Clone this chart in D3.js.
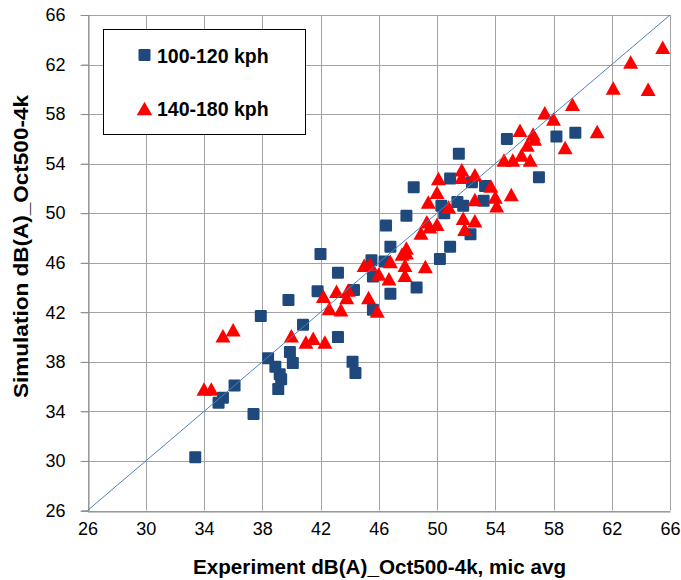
<!DOCTYPE html>
<html>
<head>
<meta charset="utf-8">
<script src="https://cdn.jsdelivr.net/npm/d3@7"></script>
<style>
  html, body { margin: 0; padding: 0; background: #fff; }
  svg { display: block; font-family: "Liberation Sans", Arial, sans-serif; }
</style>
</head>
<body>
<svg id="chart" width="681" height="580"></svg>
<script>
// Axis ticks (dB(A))
const tickValues = [26, 30, 34, 38, 42, 46, 50, 54, 58, 62, 66];

// 100-120 kph: experiment (x) vs simulation (y)
const lowSpeedX = [33.4, 35.0, 35.3, 36.1, 37.4, 37.9, 38.4, 38.9, 39.2, 39.3, 39.1, 39.9,
  40.1, 39.8, 40.8, 41.8, 42.0, 43.2, 43.2, 44.3, 44.2, 44.4, 45.5, 45.6, 45.6, 46.4,
  46.8, 46.5, 46.8, 47.9, 48.4, 48.6, 50.2, 50.9, 50.3, 50.5, 50.9, 51.4, 51.8, 51.5,
  52.4, 53.2, 53.3, 52.3, 54.8, 57.0, 58.2, 59.5];
const lowSpeedY = [30.3, 34.7, 35.1, 36.1, 33.8, 41.7, 38.3, 37.6, 37.0, 36.6, 35.8, 38.8,
  37.9, 43.0, 41.0, 43.7, 46.7, 45.2, 40.0, 43.8, 38.0, 37.1, 46.2, 44.9, 42.2, 46.1,
  47.3, 49.0, 43.5, 49.8, 52.1, 44.0, 46.3, 47.3, 50.6, 50.0, 52.8, 50.9, 50.6, 54.8,
  52.5, 51.0, 52.2, 48.3, 56.0, 52.9, 56.2, 56.5];

// 140-180 kph: experiment (x) vs simulation (y)
const highSpeedX = [34.0, 34.5, 35.3, 36.0, 40.0, 41.0, 41.5, 42.3, 42.2, 43.1, 43.9, 42.6,
  43.4, 43.8, 45.3, 45.0, 45.4, 45.9, 46.0, 46.7, 46.8, 47.6, 47.8, 47.8, 47.9, 47.9,
  49.2, 48.9, 49.5, 49.3, 50.0, 49.4, 50.0, 50.1, 50.8, 51.7, 51.7, 52.6, 51.8, 52.6,
  51.9, 52.6, 53.7, 54.0, 54.1, 54.6, 55.2, 55.8, 56.4, 55.1, 55.7, 56.6, 56.7, 56.2,
  58.8, 57.4, 58.0, 59.3, 61.0, 62.1, 63.3, 64.5, 65.5];
const highSpeedY = [35.8, 35.8, 40.1, 40.6, 40.1, 39.6, 39.9, 39.6, 43.3, 43.7, 43.8, 42.3,
  42.2, 43.2, 43.2, 45.8, 45.9, 42.1, 45.1, 44.7, 46.1, 46.7, 45.8, 45.0, 47.2, 46.8,
  45.7, 48.4, 48.9, 49.3, 49.1, 50.9, 51.7, 52.8, 50.5, 53.5, 52.9, 53.1, 49.6, 49.4,
  48.7, 51.1, 52.2, 51.3, 50.6, 54.3, 54.3, 54.7, 54.3, 51.5, 56.7, 56.4, 56.0, 55.5,
  55.3, 58.1, 57.6, 58.8, 56.6, 60.1, 62.2, 60.0, 63.4];

// Line of equality
const identity = [26, 66];

const seriesNames = ["100-120 kph", "140-180 kph"];
const xTitle = "Experiment dB(A)_Oct500-4k, mic avg";
const yTitle = "Simulation dB(A)_Oct500-4k";

const blue = "#1F497D";
const red = "#FF0000";
const gridColor = "#A3A3A3";

const svg = d3.select("#chart");
const plot = { left: 87.5, right: 670, top: 15, bottom: 510.5 };

const x = d3.scaleLinear().domain([26, 66]).range([plot.left, plot.right]);
const y = d3.scaleLinear().domain([26, 66]).range([plot.bottom, plot.top]);

// Gridlines
const grid = svg.append("g");
grid.selectAll("line.v").data(tickValues).join("line")
  .attr("x1", d => Math.round(x(d)) + 0.5).attr("x2", d => Math.round(x(d)) + 0.5)
  .attr("y1", plot.top).attr("y2", plot.bottom)
  .attr("stroke", gridColor).attr("stroke-width", 1);
grid.selectAll("line.h").data(tickValues).join("line")
  .attr("x1", plot.left - 7).attr("x2", plot.right)
  .attr("y1", d => Math.round(y(d)) + 0.5).attr("y2", d => Math.round(y(d)) + 0.5)
  .attr("stroke", gridColor).attr("stroke-width", 1);

// Y axis
const yAxis = svg.append("g")
  .attr("transform", `translate(${Math.round(plot.left) + 0.5},0)`)
  .call(d3.axisLeft(y).tickValues(tickValues).tickSize(7).tickPadding(16));
yAxis.select(".domain").attr("stroke", "#8C8C8C");
yAxis.selectAll(".tick line").attr("stroke", "#8C8C8C");
yAxis.selectAll("text").attr("font-size", 18).attr("fill", "#000")
  .attr("font-family", "'Liberation Sans', Arial, sans-serif");

// X axis
const xAxis = svg.append("g")
  .attr("transform", `translate(0,${Math.round(plot.bottom) + 0.5})`)
  .call(d3.axisBottom(x).tickValues(tickValues).tickSize(0).tickPadding(11));
xAxis.select(".domain").attr("stroke", "#8C8C8C");
xAxis.selectAll("text").attr("font-size", 18).attr("fill", "#000")
  .attr("font-family", "'Liberation Sans', Arial, sans-serif");

// Markers
const sqSize = 12;
svg.append("g").selectAll("rect")
  .data(lowSpeedX.map((v, i) => [v, lowSpeedY[i]]))
  .join("rect")
  .attr("x", d => x(d[0]) - sqSize / 2).attr("y", d => y(d[1]) - sqSize / 2)
  .attr("width", sqSize).attr("height", sqSize).attr("rx", 1.2)
  .attr("fill", blue);

const tri = d3.symbol().type(d3.symbolTriangle).size(100);
function triPath(w, h) {
  return `M0,${-h / 2}L${w / 2},${h / 2}L${-w / 2},${h / 2}Z`;
}
svg.append("g").selectAll("path")
  .data(highSpeedX.map((v, i) => [v, highSpeedY[i]]))
  .join("path")
  .attr("d", triPath(15, 13.5))
  .attr("transform", d => `translate(${x(d[0])},${y(d[1])})`)
  .attr("fill", red);

// 1:1 line
svg.append("line")
  .attr("x1", x(identity[0])).attr("y1", y(identity[0]))
  .attr("x2", x(identity[1])).attr("y2", y(identity[1]))
  .attr("stroke", "#4F81BD").attr("stroke-width", 1);

// Legend
const lg = svg.append("g");
lg.append("rect").attr("x", 103.5).attr("y", 29.5).attr("width", 202).attr("height", 105)
  .attr("fill", "#fff").attr("stroke", "#000").attr("stroke-width", 1);
lg.append("rect").attr("x", 138.5).attr("y", 49).attr("width", 12).attr("height", 12)
  .attr("rx", 1.2).attr("fill", blue);
lg.append("path").attr("d", triPath(15.5, 13.5)).attr("transform", "translate(144.5,108.5)")
  .attr("fill", red);
lg.selectAll("text").data(seriesNames).join("text")
  .attr("x", 157).attr("y", (d, i) => i === 0 ? 63 : 115.5)
  .attr("font-size", 19.5).attr("font-weight", "bold").attr("fill", "#000")
  .text(d => d);

// Axis titles
svg.append("text")
  .attr("x", 379.5).attr("y", 574).attr("text-anchor", "middle")
  .attr("font-size", 20).attr("font-weight", "bold")
  .attr("textLength", 373).attr("lengthAdjust", "spacingAndGlyphs")
  .text(xTitle);
svg.append("text")
  .attr("transform", "translate(28,246.5) rotate(-90)")
  .attr("text-anchor", "middle")
  .attr("font-size", 20).attr("font-weight", "bold")
  .attr("textLength", 303).attr("lengthAdjust", "spacingAndGlyphs")
  .text(yTitle);
</script>
</body>
</html>
